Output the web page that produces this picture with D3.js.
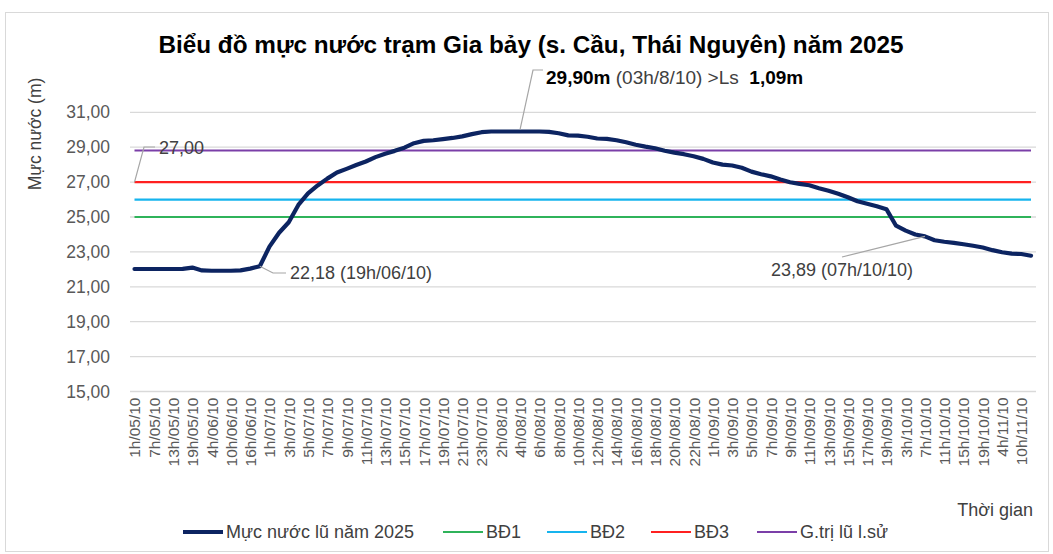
<!DOCTYPE html>
<html>
<head>
<meta charset="utf-8">
<script src="https://cdn.jsdelivr.net/npm/d3@7"></script>
<style>
  body { margin: 0; background: #fff; }
  text { font-family: Arial, "Liberation Sans", sans-serif; }
</style>
</head>
<body>
<div id="chart"></div>
<script>
// thoi diem quan trac (moi nhan thu 2 duoc ghi tren truc)
const categories = [
  "1h/05/10", "4h/05/10", "7h/05/10", "10h/05/10", "13h/05/10", "16h/05/10", "19h/05/10", "1h/06/10",
  "4h/06/10", "7h/06/10", "10h/06/10", "13h/06/10", "16h/06/10", "19h/06/10",
  "1h/07/10", "2h/07/10", "3h/07/10", "4h/07/10", "5h/07/10", "6h/07/10", "7h/07/10", "8h/07/10",
  "9h/07/10", "10h/07/10", "11h/07/10", "12h/07/10", "13h/07/10", "14h/07/10", "15h/07/10", "16h/07/10",
  "17h/07/10", "18h/07/10", "19h/07/10", "20h/07/10", "21h/07/10", "22h/07/10", "23h/07/10", "1h/08/10",
  "2h/08/10", "3h/08/10", "4h/08/10", "5h/08/10", "6h/08/10", "7h/08/10", "8h/08/10", "9h/08/10",
  "10h/08/10", "11h/08/10", "12h/08/10", "13h/08/10", "14h/08/10", "15h/08/10", "16h/08/10", "17h/08/10",
  "18h/08/10", "19h/08/10", "20h/08/10", "21h/08/10", "22h/08/10", "23h/08/10",
  "1h/09/10", "2h/09/10", "3h/09/10", "4h/09/10", "5h/09/10", "6h/09/10", "7h/09/10", "8h/09/10",
  "9h/09/10", "10h/09/10", "11h/09/10", "12h/09/10", "13h/09/10", "14h/09/10", "15h/09/10", "16h/09/10",
  "17h/09/10", "18h/09/10", "19h/09/10", "23h/09/10",
  "3h/10/10", "5h/10/10", "7h/10/10", "9h/10/10", "11h/10/10", "13h/10/10", "15h/10/10", "17h/10/10",
  "19h/10/10", "1h/11/10", "4h/11/10", "7h/11/10", "10h/11/10", "13h/11/10"
];

// muc nuoc lu nam 2025 (m)
const waterLevel = [
  22.02, 22.02, 22.02, 22.02, 22.02, 22.03, 22.10, 21.94,
  21.92, 21.92, 21.92, 21.94, 22.04, 22.18,
  23.30, 24.10, 24.70, 25.69, 26.35, 26.81, 27.20, 27.55,
  27.76, 27.98, 28.18, 28.43, 28.63, 28.79, 28.97, 29.23,
  29.36, 29.40, 29.46, 29.53, 29.62, 29.75, 29.86, 29.90,
  29.90, 29.90, 29.90, 29.90, 29.90, 29.88, 29.80, 29.68,
  29.66, 29.60, 29.50, 29.48, 29.40, 29.28, 29.14, 29.03,
  28.94, 28.80, 28.69, 28.60, 28.48, 28.33,
  28.12, 28.00, 27.95, 27.82, 27.60, 27.45, 27.33, 27.15,
  26.99, 26.90, 26.82, 26.65, 26.50, 26.33, 26.13, 25.90,
  25.76, 25.62, 25.45, 24.50,
  24.22, 24.00, 23.89, 23.67, 23.58, 23.52, 23.44, 23.35,
  23.25, 23.10, 22.98, 22.90, 22.88, 22.78
];

// cap bao dong va gia tri lu lich su (m)
const bd1 = 25.00;
const bd2 = 26.00;
const bd3 = 27.00;
const historic = 28.81;

const yTicks = [15, 17, 19, 21, 23, 25, 27, 29, 31];

const seriesNames = ["Mực nước lũ năm 2025", "BĐ1", "BĐ2", "BĐ3", "G.trị lũ l.sử"];
const seriesColors = ["#0c2461", "#2fb35a", "#16b4ee", "#ff2020", "#7b3fa8"];

const width = 1053;
const height = 554;

const svg = d3.select("#chart")
  .append("svg")
  .attr("width", width)
  .attr("height", height);

// khung ngoai
svg.append("rect")
  .attr("x", 5.5).attr("y", 12.5)
  .attr("width", 1043).attr("height", 539)
  .attr("fill", "none")
  .attr("stroke", "#d9d9d9");

const x = d3.scalePoint()
  .domain(categories)
  .range([134.5, 1031]);

const y = d3.scaleLinear()
  .domain([15, 31])
  .range([391.5, 112.3]);

// luoi ngang
svg.append("g")
  .selectAll("line")
  .data(yTicks)
  .enter()
  .append("line")
  .attr("x1", 130).attr("x2", 1036)
  .attr("y1", d => y(d)).attr("y2", d => y(d))
  .attr("stroke", "#d9d9d9")
  .attr("stroke-width", 1.3);

// truc y
const yAxis = svg.append("g")
  .attr("transform", "translate(110,0)")
  .call(d3.axisLeft(y).tickValues(yTicks).tickSize(0).tickPadding(0)
    .tickFormat(d => d3.format(".2f")(d).replace(".", ",")));
yAxis.select(".domain").remove();
yAxis.selectAll("text")
  .attr("font-size", 17.5)
  .attr("fill", "#595959")
  .attr("font-family", "Arial, 'Liberation Sans', sans-serif");

// truc x
const xAxis = svg.append("g")
  .attr("transform", `translate(0,${y(15)})`)
  .call(d3.axisBottom(x)
    .tickValues(categories.filter((d, i) => i % 2 === 0))
    .tickSize(0));
xAxis.select(".domain").remove();
xAxis.selectAll("text")
  .attr("font-size", 15.5)
  .attr("fill", "#595959")
  .attr("font-family", "Arial, 'Liberation Sans', sans-serif")
  .attr("text-anchor", "end")
  .attr("transform", "rotate(-90)")
  .attr("x", -6)
  .attr("y", 0)
  .attr("dy", "0.35em");

// cac duong bao dong
const levels = [bd1, bd2, bd3, historic];
levels.forEach((v, i) => {
  svg.append("line")
    .attr("x1", x(categories[0]))
    .attr("x2", x(categories[categories.length - 1]))
    .attr("y1", y(v)).attr("y2", y(v))
    .attr("stroke", seriesColors[i + 1])
    .attr("stroke-width", 2.2);
});

// duong muc nuoc
const line = d3.line()
  .x((d, i) => x(categories[i]))
  .y(d => y(d));

svg.append("path")
  .datum(waterLevel)
  .attr("d", line)
  .attr("fill", "none")
  .attr("stroke", seriesColors[0])
  .attr("stroke-width", 4.2)
  .attr("stroke-linejoin", "round")
  .attr("stroke-linecap", "round");

// tieu de
svg.append("text")
  .attr("x", 531).attr("y", 53)
  .attr("text-anchor", "middle")
  .attr("font-size", 24.3)
  .attr("font-weight", "bold")
  .attr("fill", "#000")
  .text("Biểu đồ mực nước trạm Gia bảy (s. Cầu, Thái Nguyên) năm 2025");

svg.append("text")
  .attr("transform", "translate(41,134) rotate(-90)")
  .attr("text-anchor", "middle")
  .attr("font-size", 17.5)
  .attr("fill", "#404040")
  .text("Mực nước (m)");

svg.append("text")
  .attr("x", 1033).attr("y", 516)
  .attr("text-anchor", "end")
  .attr("font-size", 18)
  .attr("fill", "#404040")
  .text("Thời gian");

// chu thich tren do thi
const leader = (pts) => svg.append("polyline")
  .attr("points", pts.map(p => p.join(",")).join(" "))
  .attr("fill", "none")
  .attr("stroke", "#a6a6a6")
  .attr("stroke-width", 1.2);

const iPeak = 40;
leader([[543, 70], [533, 70], [x(categories[iPeak]), y(waterLevel[iPeak]) - 2]]);
const peakText = svg.append("text")
  .attr("x", 546).attr("y", 84)
  .attr("font-size", 19)
  .attr("fill", "#000")
  .attr("xml:space", "preserve");
peakText.append("tspan").attr("font-weight", "bold").text("29,90m");
peakText.append("tspan").attr("fill", "#404040").text(" (03h/8/10) >Ls  ");
peakText.append("tspan").attr("font-weight", "bold").text("1,09m");

leader([[155, 147], [144, 147], [x(categories[0]), y(bd3)]]);
svg.append("text")
  .attr("x", 159).attr("y", 154)
  .attr("font-size", 18)
  .attr("fill", "#404040")
  .text("27,00");

const iLow = 13;
leader([[x(categories[iLow]), y(waterLevel[iLow])], [273, 273], [286, 273]]);
svg.append("text")
  .attr("x", 290).attr("y", 279)
  .attr("font-size", 18)
  .attr("fill", "#404040")
  .text("22,18 (19h/06/10)");

const iFall = 82;
leader([[x(categories[iFall]), y(waterLevel[iFall])], [842, 257]]);
svg.append("text")
  .attr("x", 771).attr("y", 276)
  .attr("font-size", 18)
  .attr("fill", "#404040")
  .text("23,89 (07h/10/10)");

// chu giai
const legendX = [183, 443, 547, 651, 757];
const legend = svg.append("g")
  .selectAll("g")
  .data(seriesNames)
  .enter()
  .append("g")
  .attr("transform", (d, i) => `translate(${legendX[i]},532)`);

legend.append("line")
  .attr("x1", 0)
  .attr("x2", 40)
  .attr("stroke", (d, i) => seriesColors[i])
  .attr("stroke-width", (d, i) => i === 0 ? 4.2 : 2.2);

legend.append("text")
  .attr("x", 43)
  .attr("dy", "0.35em")
  .attr("font-size", 18)
  .attr("fill", "#404040")
  .text(d => d);
</script>
</body>
</html>
